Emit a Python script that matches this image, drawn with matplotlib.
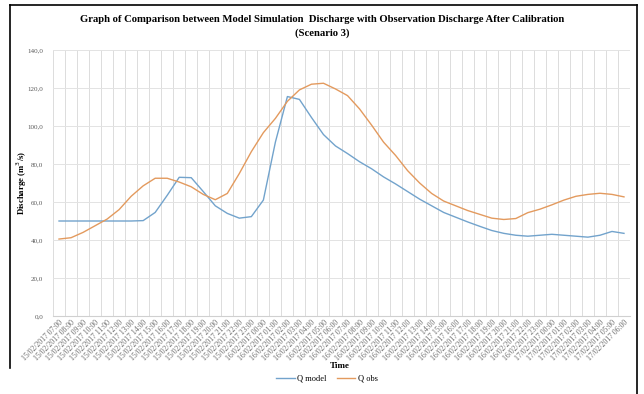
import matplotlib
matplotlib.use("Agg")
import matplotlib.pyplot as plt
from matplotlib.lines import Line2D

# Hourly time stamps, 15/02/2017 07:00 -> 17/02/2017 06:00
times = ([f"15/02/2017 {h:02d}:00" for h in range(7, 24)]
         + [f"16/02/2017 {h:02d}:00" for h in range(0, 24)]
         + [f"17/02/2017 {h:02d}:00" for h in range(0, 7)])

q_model = [50.0, 50.0, 50.0, 50.0, 50.0, 50.0, 50.0, 50.2, 54.5, 63.5,
           73.0, 72.8, 65.5, 58.0, 54.0, 51.5, 52.3, 61.0, 91.5, 115.5,
           114.0, 104.5, 95.5, 89.5, 85.5, 81.2, 77.5, 73.2, 69.5, 65.5,
           61.5, 58.0, 54.5, 52.0, 49.5, 47.2, 45.0, 43.5, 42.5, 42.0,
           42.5, 43.0, 42.5, 42.0, 41.5, 42.5, 44.5, 43.5]

q_obs = [40.5, 41.2, 44.0, 47.5, 51.0, 56.0, 63.0, 68.5, 72.5, 72.5,
         70.5, 68.0, 64.0, 61.2, 64.5, 75.0, 86.5, 96.5, 104.0, 113.0,
         119.0, 122.0, 122.5, 119.5, 116.0, 109.0, 100.5, 91.5, 84.5, 76.5,
         70.0, 64.5, 60.5, 58.0, 55.5, 53.5, 51.5, 50.8, 51.3, 54.4,
         56.2, 58.5, 61.0, 63.0, 64.0, 64.6, 64.0, 62.7]

y_ticks = [0, 20, 40, 60, 80, 100, 120, 140]

serif = ["Liberation Serif", "DejaVu Serif"]
c_model = "#72a3cc"
c_obs = "#e39a5e"
W, H = 644, 394

fig = plt.figure(figsize=(W / 100, H / 100), dpi=100)
ax = fig.add_axes([53 / W, 78 / H, 577 / W, 266 / H])

x = list(range(len(times)))
ax.plot(x, q_model, color=c_model, lw=1.0)
ax.plot(x, q_obs, color=c_obs, lw=1.0)

ax.set_xlim(-0.5, len(times) - 0.5)
ax.set_ylim(0, 140)
ax.set_yticks(y_ticks)
ax.set_yticklabels([f"{v:.1f}".replace(".", ",") for v in y_ticks],
                   fontfamily=serif, fontsize=5, color="#595959")
ax.set_xticks(x)
ax.set_xticklabels(times, rotation=45, ha="right", rotation_mode="anchor",
                   fontfamily=serif, fontsize=5.5, color="#6a6a6a")
ax.tick_params(axis="both", length=0)
ax.tick_params(axis="x", pad=2)
ax.tick_params(axis="y", pad=7)

# Category gridlines sit between the points
for b in range(len(times) + 1):
    ax.axvline(b - 0.5, color="#dcdcdc", lw=0.7, zorder=0)
for v in y_ticks:
    ax.axhline(v, color="#e3e3e3", lw=0.7, zorder=0)
for s in ["top", "right", "left"]:
    ax.spines[s].set_visible(False)
ax.spines["bottom"].set_color("#d0d0d0")

fig.text(22 / W, 1 - 183 / H, "Discharge (m$^3$/s)", fontfamily=serif, fontsize=6.3,
         fontweight="bold", rotation=90, ha="center", va="center")
fig.text(340 / W, 1 - 366 / H, "Time", fontfamily=serif, fontsize=6.5,
         fontweight="bold", ha="center", va="center")

fig.text(322 / W, 1 - 20 / H,
         "Graph of Comparison between Model Simulation  Discharge with Observation Discharge After Calibration",
         fontfamily=serif, fontsize=7.7, fontweight="bold", ha="center", va="center")
fig.text(322 / W, 1 - 33 / H, "(Scenario 3)", fontfamily=serif, fontsize=7.7,
         fontweight="bold", ha="center", va="center")

handles = [Line2D([], [], color=c_model, lw=1.0), Line2D([], [], color=c_obs, lw=1.0)]
fig.legend(handles, ["Q model", "Q obs"], loc="center", ncol=2,
           bbox_to_anchor=(327 / W, 1 - 379 / H), frameon=False,
           prop={"family": serif, "size": 6}, handlelength=2.2,
           columnspacing=1.2, handletextpad=0.3)

# Outer frame
frame_kw = dict(color="black", lw=1.2, transform=fig.transFigure, clip_on=False)
fig.add_artist(Line2D([10 / W, 10 / W], [1 - 5 / H, 1 - 368 / H], **frame_kw))
fig.add_artist(Line2D([10 / W, 637 / W], [1 - 5 / H, 1 - 5 / H], **frame_kw))
fig.add_artist(Line2D([637 / W, 637 / W], [1 - 5 / H, 0], **frame_kw))

fig.savefig("out.png", dpi=100, facecolor="white")
